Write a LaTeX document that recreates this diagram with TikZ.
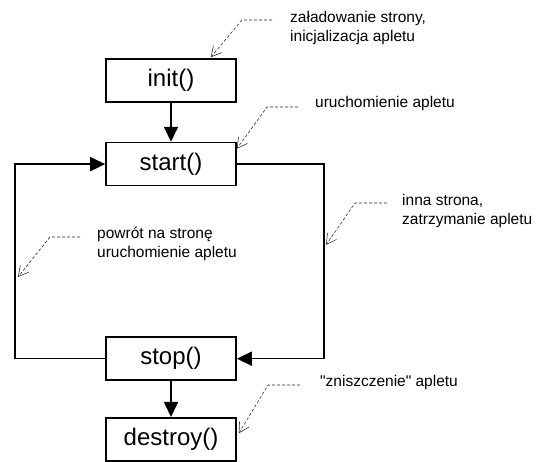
\documentclass[tikz,border=0pt]{standalone}
\usepackage{fontspec}
\setmainfont{Liberation Sans}
\newfontfamily\notefont{Liberation Sans}
\usepackage{tikz}
\usetikzlibrary{arrows.meta, positioning}

\begin{document}
\begin{tikzpicture}[
  x=1pt, y=-1pt,
  method/.style={rectangle, draw=black, line width=1.6pt, minimum width=130pt,
                 minimum height=43pt, inner sep=0pt, font=\fontsize{24}{26}\selectfont},
  note/.style={anchor=west, align=left, inner sep=0pt, font=\notefont\fontsize{15.5}{19}\selectfont},
  arrow/.style={-{Triangle[length=15pt,width=14pt]}, line width=1.6pt},
  pointer/.style={-{Straight Barb[length=10pt,width=11pt]}, line width=0.55pt,
                  draw=black!85, dash pattern=on 3pt off 2pt}
]
\useasboundingbox (0,0) rectangle (544,462);

\node[method] (init) at (171,80.5) {init()};
\node[method, below=39pt of init] (start) {start()};
\node[method, below=150pt of start] (stop) {stop()};
\node[method, below=36pt of stop] (destroy) {destroy()};

% down arrows
\draw[arrow] (init) -- (start);
\draw[arrow] (stop) -- (destroy);

% loop
\draw[arrow] (start.east) -- ++(87,0) |- (stop.east);
\draw[arrow] (stop.west) -- ++(-90,0) |- (start.west);

% notes
\node[note] (load) at (290,27.5) {załadowanie strony,\\inicjalizacja apletu};
\node[note] (run) at (315,103) {uruchomienie apletu};
\node[note] (leave) at (402,211) {inna strona,\\zatrzymanie apletu};
\node[note] (back) at (97,244) {powrót na stronę\\uruchomienie apletu};
\node[note] (kill) at (320,382) {"zniszczenie" apletu};

\coordinate (load a) at (272,20);  \coordinate (load b) at (242,20);
\coordinate (run a) at (298,107);  \coordinate (run b) at (267,107);
\coordinate (leave a) at (387,203); \coordinate (leave b) at (355,203);
\coordinate (leave t) at (326,245);
\coordinate (back a) at (80,237);  \coordinate (back b) at (50,237);
\coordinate (back t) at (18,277);
\coordinate (kill a) at (300,385); \coordinate (kill b) at (268,385);

\draw[pointer] (load a) -- (load b) -- ([xshift=-26pt,yshift=1pt]init.north east);
\draw[pointer] (run a) -- (run b) -- ([yshift=-7pt]start.north east);
\draw[pointer] (leave a) -- (leave b) -- (leave t);
\draw[pointer] (back a) -- (back b) -- (back t);
\draw[pointer] (kill a) -- (kill b) -- ([xshift=2pt,yshift=6pt]destroy.east);
\end{tikzpicture}
\end{document}
